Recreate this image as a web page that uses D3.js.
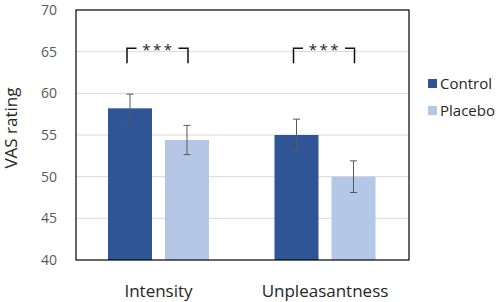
<!DOCTYPE html>
<html>
<head>
<meta charset="utf-8">
<script src="https://cdn.jsdelivr.net/npm/d3@7"></script>
<style>
  html, body { margin: 0; padding: 0; background: #fff; }
  svg { display: block; font-family: "Open Sans", sans-serif; }
</style>
</head>
<body>
<div id="chart"></div>
<script>
// ---- data ----
const categories = ["Intensity", "Unpleasantness"];
const series = ["Control", "Placebo"];
const controlValues = [58.2, 55.0];
const placeboValues = [54.4, 50.0];
const controlErrors = [1.7, 1.9];
const placeboErrors = [1.75, 1.9];
const yTicks = [40, 45, 50, 55, 60, 65, 70];
const significance = ["***", "***"];
const seriesColors = ["#2F5597", "#B4C7E7"];

const W = 500, H = 302;
const margin = { left: 76, right: 91, top: 10, bottom: 42 };
const pw = W - margin.left - margin.right;
const ph = H - margin.top - margin.bottom;

const svg = d3.select("#chart").append("svg").attr("width", W).attr("height", H);
const g = svg.append("g").attr("transform", `translate(${margin.left},${margin.top})`);

const y = d3.scaleLinear().domain([40, 70]).range([ph, 0]);
const x0 = d3.scaleBand().domain(categories).range([0, pw]);
const x1 = d3.scaleBand().domain(series).range([32, 133]).paddingInner(0.228);

// gridlines
g.append("g").selectAll("line").data(yTicks.filter(t => t > 40 && t < 70)).join("line")
  .attr("x1", 0).attr("x2", pw)
  .attr("y1", d => y(d)).attr("y2", d => y(d))
  .attr("stroke", "#d9d9d9").attr("stroke-width", 1);

// y axis
const yAxis = g.append("g").call(d3.axisLeft(y).tickValues(yTicks).tickSize(0).tickPadding(19));
yAxis.select(".domain").remove();
yAxis.selectAll("text").attr("fill", "#595959").style("font-size", "14px")
  .style("font-family", "'Open Sans', sans-serif");

// data rows
const rows = categories.map((c, i) => ({
  cat: c,
  vals: [
    { s: series[0], v: controlValues[i], e: controlErrors[i], color: seriesColors[0] },
    { s: series[1], v: placeboValues[i], e: placeboErrors[i], color: seriesColors[1] }
  ]
}));

const grp = g.selectAll(".grp").data(rows).join("g")
  .attr("transform", d => `translate(${x0(d.cat)},0)`);

grp.selectAll("rect").data(d => d.vals).join("rect")
  .attr("x", d => x1(d.s)).attr("width", x1.bandwidth())
  .attr("y", d => y(d.v)).attr("height", d => y(40) - y(d.v))
  .attr("fill", d => d.color);

// error bars
const eb = grp.selectAll(".eb").data(d => d.vals).join("g")
  .attr("transform", d => `translate(${x1(d.s) + x1.bandwidth() / 2},0)`)
  .attr("stroke", "#595959").attr("stroke-width", 1);
eb.append("line").attr("x1", 0).attr("x2", 0)
  .attr("y1", d => y(d.v + d.e)).attr("y2", d => y(d.v - d.e));
eb.append("line").attr("x1", -3.5).attr("x2", 3.5)
  .attr("y1", d => y(d.v + d.e)).attr("y2", d => y(d.v + d.e));
eb.append("line").attr("x1", -3.5).attr("x2", 3.5)
  .attr("y1", d => y(d.v - d.e)).attr("y2", d => y(d.v - d.e));

// significance brackets
const br = grp.append("g");
br.each(function(d, i) {
  const sel = d3.select(this);
  const xl = x1(series[0]) + x1.bandwidth() / 2 - 3;
  const xr = x1(series[1]) + x1.bandwidth() / 2 + 1;
  const yt = y(65.4), yb = y(63.6);
  const mid = (xl + xr) / 2;
  sel.append("path")
    .attr("d", `M${xl},${yb}V${yt}H${mid - 21}`)
    .attr("fill", "none").attr("stroke", "#111").attr("stroke-width", 1.5);
  sel.append("path")
    .attr("d", `M${mid + 21},${yt}H${xr}V${yb}`)
    .attr("fill", "none").attr("stroke", "#111").attr("stroke-width", 1.5);
  sel.append("text").attr("x", mid + 1).attr("y", yt + 7)
    .attr("text-anchor", "middle").attr("fill", "#222")
    .style("font-size", "15px").style("letter-spacing", "2.5px")
    .text(significance[i]);
});

// frame
g.append("rect").attr("x", 0).attr("y", 0).attr("width", pw).attr("height", ph)
  .attr("fill", "none").attr("stroke", "#000").attr("stroke-width", 1.2);

// x labels
g.append("g").selectAll("text").data(categories).join("text")
  .attr("x", d => x0(d) + 32 + 50.5).attr("y", 287)
  .attr("text-anchor", "middle").attr("fill", "#262626")
  .style("font-size", "17px").text(d => d);

// y label
svg.append("text")
  .attr("transform", "translate(17,128) rotate(-90)")
  .attr("text-anchor", "middle").attr("fill", "#262626")
  .style("font-size", "17px").text("VAS rating");

// legend
const lg = svg.append("g").attr("transform", "translate(428,79)");
const li = lg.selectAll("g").data(series).join("g")
  .attr("transform", (d, i) => `translate(0,${i * 27})`);
li.append("rect").attr("width", 9).attr("height", 9).attr("fill", (d, i) => seriesColors[i]);
li.append("text").attr("x", 12).attr("y", 9.5).attr("fill", "#262626")
  .style("font-size", "15px").text(d => d);
</script>
</body>
</html>
